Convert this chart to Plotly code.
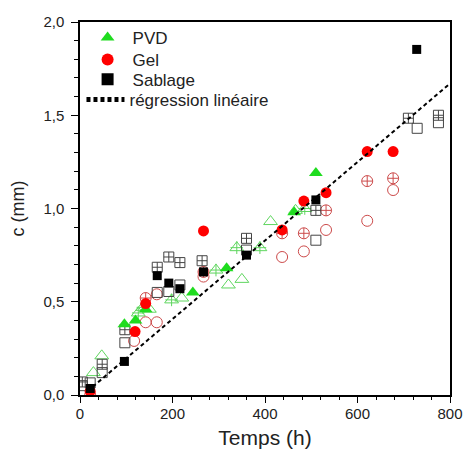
import plotly.graph_objects as go

# ---- data ----
pvd_x = [96, 120, 142, 244, 317, 463, 510]
pvd_y = [0.38, 0.40, 0.46, 0.55, 0.68, 0.98, 1.19]
pvd_open_x = [29, 47, 150, 220, 321, 350, 412, 466]
pvd_open_y = [0.12, 0.21, 0.46, 0.52, 0.59, 0.62, 0.93, 0.99]
pvd_cross_x = [126, 136, 198, 294, 339, 389, 486]
pvd_cross_y = [0.44, 0.47, 0.51, 0.67, 0.79, 0.79, 1.00]

gel_x = [22, 119, 142, 267, 437, 484, 532, 621, 677]
gel_y = [0.02, 0.34, 0.49, 0.88, 0.885, 1.04, 1.085, 1.305, 1.305]
gel_cross_x = [142, 267, 437, 484, 532, 621, 677]
gel_cross_y = [0.52, 0.66, 0.867, 0.867, 0.99, 1.147, 1.162]
gel_open_x = [22, 117, 142, 166, 166, 267, 437, 484, 532, 621, 677]
gel_open_y = [0.0, 0.29, 0.39, 0.39, 0.54, 0.635, 0.74, 0.77, 0.885, 0.934, 1.099]

sab_x = [22, 96, 167, 192, 216, 267, 360, 510, 728]
sab_y = [0.035, 0.18, 0.64, 0.60, 0.57, 0.66, 0.75, 1.046, 1.853]
sab_cross_x = [5, 48, 97, 167, 192, 216, 264, 360, 510, 710, 775]
sab_cross_y = [0.07, 0.165, 0.35, 0.685, 0.74, 0.71, 0.72, 0.84, 0.99, 1.484, 1.50]
sab_open_x = [5, 22, 48, 97, 167, 192, 216, 360, 510, 729, 775]
sab_open_y = [0.05, 0.065, 0.12, 0.28, 0.55, 0.555, 0.59, 0.777, 0.83, 1.43, 1.46]

reg_x = [16, 800]
reg_y = [0.02, 1.67]

x_ticks = [0, 200, 400, 600, 800]
y_ticks = [0.0, 0.5, 1.0, 1.5, 2.0]

GREEN = "#1fdc1f"
GREEN_L = "#5fd65f"
RED = "#ff0000"
RED_L = "#cc4a4a"
GRAY = "#444444"

fig = go.Figure()

def add(x, y, symbol, color, size, name=None, show=False, lw=1, legend="legend"):
    fig.add_trace(go.Scatter(
        x=x, y=y, mode="markers", name=name, showlegend=show, legend=legend,
        marker=dict(symbol=symbol, color=color, size=size,
                    line=dict(color=color, width=lw))))

# open / cross markers (behind filled)
add(pvd_open_x, pvd_open_y, "triangle-up-open", GREEN_L, 12)
add(pvd_cross_x, pvd_cross_y, "triangle-up-open", GREEN_L, 12)
add(pvd_cross_x, pvd_cross_y, "cross-thin-open", GREEN_L, 9)
add(gel_open_x, gel_open_y, "circle-open", RED_L, 11)
add(gel_cross_x, gel_cross_y, "circle-cross-open", RED_L, 11)
add(sab_open_x, sab_open_y, "square-open", GRAY, 10)
add(sab_cross_x, sab_cross_y, "square-cross-open", GRAY, 10)

# filled markers (legend)
add(pvd_x, pvd_y, "triangle-up", GREEN, 12, "PVD", True, 0, "legend")
add(gel_x, gel_y, "circle", RED, 11, "Gel", True, 0, "legend2")
add(sab_x, sab_y, "square", "#000000", 9, "Sablage", True, 0, "legend3")

fig.add_trace(go.Scatter(
    x=reg_x, y=reg_y, mode="lines", name="régression linéaire", legend="legend4",
    line=dict(color="black", width=2, dash="4px,3px")))

axis_common = dict(
    showline=True, linecolor="black", linewidth=1.5, mirror=True,
    ticks="outside", tickwidth=1, tickcolor="black",
    showgrid=False, zeroline=False, automargin=False,
    ticklabeloverflow="allow",
    tickfont=dict(size=15, color="#222222"),
)

def leg(xpos, ypos, iw):
    return dict(x=xpos, y=ypos, xanchor="left", yanchor="middle",
                bgcolor="rgba(0,0,0,0)", font=dict(size=17, color="#222222"),
                itemsizing="constant", itemwidth=iw)

fig.update_layout(
    width=464, height=455,
    margin=dict(l=80, r=14, t=22, b=60),
    paper_bgcolor="white", plot_bgcolor="white",
    font=dict(family="Liberation Sans, Arial, sans-serif", color="#222222"),
    separators=", ",
    xaxis=dict(range=[0, 800], tickvals=x_ticks, tickformat="d", ticklen=6,
               ticklabelstandoff=-2,
               minor=dict(dtick=40, ticks="outside", ticklen=3, tickcolor="black"),
               title=dict(text="Temps (h)", font=dict(size=21), standoff=10),
               **axis_common),
    yaxis=dict(range=[0, 2.0], tickvals=y_ticks, tickformat=".1f", ticklen=7,
               ticklabelstandoff=4,
               minor=dict(dtick=0.1, ticks="outside", ticklen=4, tickcolor="black"),
               title=dict(text="c (mm)", font=dict(size=18), standoff=14),
               **axis_common),
    legend=leg(0.007, 0.957, 40),
    legend2=leg(0.007, 0.898, 40),
    legend3=leg(0.007, 0.845, 40),
    legend4=leg(0.004, 0.791, 38),
)

fig.write_html("out.html",
               config={"displayModeBar": False},
               post_script="document.body.style.margin='0';document.body.style.overflow='hidden';")
